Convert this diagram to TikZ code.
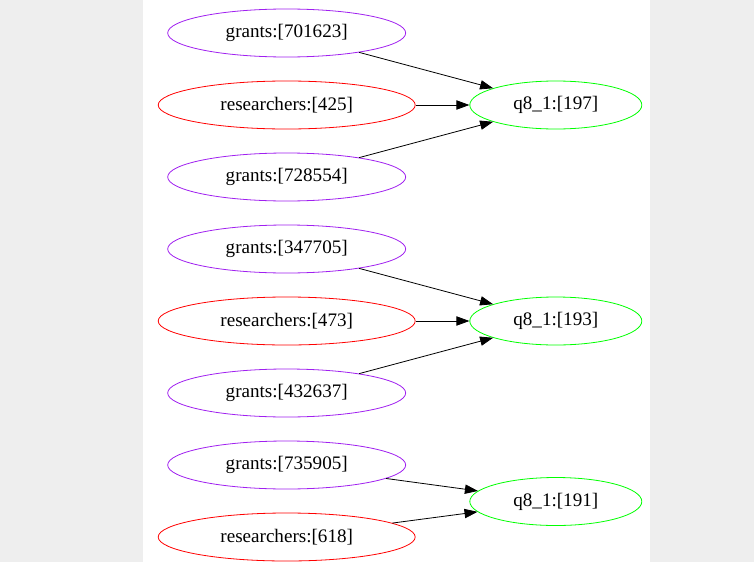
\documentclass[tikz,border=0pt]{standalone}
\usepackage{fontspec}
\setmainfont{Liberation Serif}
\usetikzlibrary{shapes.geometric,arrows.meta}
\definecolor{gvpurple}{HTML}{A020F0}
\definecolor{gvred}{HTML}{FF0000}
\definecolor{gvgreen}{HTML}{00FF00}
\definecolor{margin}{HTML}{EEEEEE}
\tikzset{
  base/.style={ellipse, draw, line width=0.8pt, inner sep=0pt, minimum height=48pt,
    font=\fontsize{19.1}{22}\selectfont, text=black},
  grantnode/.style={base, draw=gvpurple, minimum width=238pt},
  resnode/.style={base, draw=gvred, minimum width=257pt},
  qnode/.style={base, draw=gvgreen, minimum width=172pt},
  edge/.style={draw=black, line width=0.8pt, -{Triangle[length=13pt,width=9.3pt]}}
}
\begin{document}
\begin{tikzpicture}[x=1pt,y=-1pt]
\useasboundingbox (0,0) rectangle (754,562);
\fill[margin] (0,0) rectangle (754,562);
\fill[white] (143,0) rectangle (650,562);
% group 1
\node[grantnode] (g1) at (286.7,33) {grants:[701623]};
\node[resnode] (r1) at (286.7,105) {researchers:[425]};
\node[grantnode] (g2) at (286.7,177) {grants:[728554]};
\node[qnode] (q1) at (555.8,105) {q8\_1:[197]};
% group 2
\node[grantnode] (g3) at (286.7,249) {grants:[347705]};
\node[resnode] (r2) at (286.7,321) {researchers:[473]};
\node[grantnode] (g4) at (286.7,393) {grants:[432637]};
\node[qnode] (q2) at (555.8,321) {q8\_1:[193]};
% group 3
\node[grantnode] (g5) at (286.7,465) {grants:[735905]};
\node[resnode] (r3) at (286.7,537) {researchers:[618]};
\node[qnode] (q3) at (555.8,501.5) {q8\_1:[191]};
% edges
\draw[edge] (g1) -- (q1);
\draw[edge] (r1) -- (q1);
\draw[edge] (g2) -- (q1);
\draw[edge] (g3) -- (q2);
\draw[edge] (r2) -- (q2);
\draw[edge] (g4) -- (q2);
\draw[edge] (g5) -- (q3);
\draw[edge] (r3) -- (q3);
\end{tikzpicture}
\end{document}
